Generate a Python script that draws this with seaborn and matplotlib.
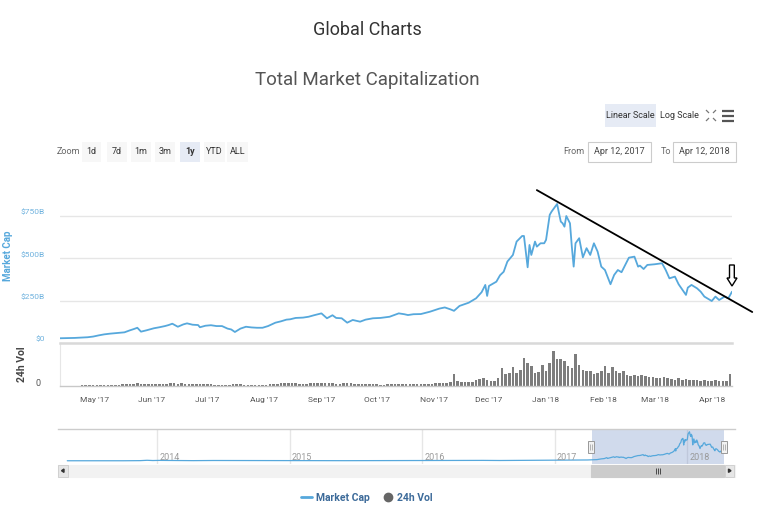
import numpy as np
import pandas as pd
import matplotlib
matplotlib.use("Agg")
import matplotlib.pyplot as plt
from matplotlib.patches import Rectangle, Polygon
from matplotlib.lines import Line2D
from matplotlib.transforms import ScaledTranslation
import seaborn as sns

# ---------------- data ----------------
cap_dates = [
    "2017-04-12", "2017-04-16", "2017-04-20", "2017-04-24", "2017-04-27", "2017-04-30",
    "2017-05-03", "2017-05-06", "2017-05-09", "2017-05-11", "2017-05-14", "2017-05-17",
    "2017-05-20", "2017-05-22", "2017-05-24", "2017-05-26", "2017-05-29", "2017-06-02",
    "2017-06-05", "2017-06-08", "2017-06-10", "2017-06-12", "2017-06-15", "2017-06-18",
    "2017-06-20", "2017-06-23", "2017-06-26", "2017-06-27", "2017-06-30", "2017-07-03",
    "2017-07-06", "2017-07-09", "2017-07-12", "2017-07-14", "2017-07-16", "2017-07-19",
    "2017-07-22", "2017-07-25", "2017-07-28", "2017-07-31", "2017-08-03", "2017-08-07",
    "2017-08-10", "2017-08-13", "2017-08-15", "2017-08-18", "2017-08-22", "2017-08-25",
    "2017-08-28", "2017-09-01", "2017-09-04", "2017-09-07", "2017-09-09", "2017-09-12",
    "2017-09-15", "2017-09-18", "2017-09-22", "2017-09-25", "2017-09-29", "2017-10-03",
    "2017-10-08", "2017-10-13", "2017-10-16", "2017-10-18", "2017-10-21", "2017-10-25",
    "2017-10-30", "2017-11-04", "2017-11-07", "2017-11-10", "2017-11-12", "2017-11-15",
    "2017-11-20", "2017-11-24", "2017-11-27", "2017-11-29", "2017-11-30", "2017-12-01",
    "2017-12-05", "2017-12-07", "2017-12-09", "2017-12-11", "2017-12-14", "2017-12-16",
    "2017-12-19", "2017-12-20", "2017-12-22", "2017-12-23", "2017-12-24", "2017-12-26",
    "2017-12-27", "2017-12-29", "2017-12-31", "2018-01-01", "2018-01-03", "2018-01-04",
    "2018-01-07", "2018-01-09", "2018-01-10", "2018-01-11", "2018-01-12", "2018-01-14",
    "2018-01-15", "2018-01-16", "2018-01-17", "2018-01-19", "2018-01-21", "2018-01-23",
    "2018-01-25", "2018-01-27", "2018-01-29", "2018-01-31", "2018-02-02", "2018-02-05",
    "2018-02-07", "2018-02-09", "2018-02-11", "2018-02-13", "2018-02-15", "2018-02-18",
    "2018-02-20", "2018-02-21", "2018-02-23", "2018-02-25", "2018-03-01", "2018-03-05",
    "2018-03-07", "2018-03-09", "2018-03-12", "2018-03-14", "2018-03-18", "2018-03-19",
    "2018-03-21", "2018-03-24", "2018-03-26", "2018-03-28", "2018-04-01", "2018-04-03",
    "2018-04-05", "2018-04-08", "2018-04-10", "2018-04-12",
]
cap_values = [
    28, 29, 30, 32, 34, 38,
    45, 51, 55, 57, 60, 63,
    75, 82, 90, 67, 75, 87,
    93, 100, 106, 114, 96, 110,
    116, 108, 106, 93, 102, 105,
    100, 100, 85, 80, 65, 85,
    96, 92, 90, 90, 100, 120,
    128, 138, 140, 148, 150, 155,
    164, 175, 146, 164, 148, 146,
    120, 136, 126, 138, 146, 148,
    155, 175, 170, 165, 170, 171,
    185, 203, 210, 199, 190, 219,
    238, 264, 300, 343, 278, 337,
    362, 400, 421, 481, 520, 599,
    632, 632, 447, 579, 520, 599,
    569, 589, 589, 609, 757, 776,
    821, 717, 707, 687, 750, 707,
    569, 451, 589, 619, 506, 560,
    520, 589, 540, 451, 431, 347,
    402, 431, 418, 461, 504, 510,
    451, 457, 437, 461, 465, 471,
    431, 382, 392, 347, 284, 327,
    343, 323, 303, 274, 248, 274,
    254, 274, 264, 303,
]

# 24h volume (billions), one bar every 2 days starting 2017-04-12
vol_start = "2017-04-12"
vol_values = [
    0.7, 0.7, 0.8, 0.8, 0.9, 0.9, 1.0, 1.0, 1.1, 1.2,
    1.3, 1.5, 1.6, 1.8, 2.0, 2.2, 2.5, 2.8, 3.2, 3.8, 4.5, 5.0, 4.2, 3.5, 3.2,
    3.2, 3.4, 3.8, 4.2, 4.6, 5.0, 5.2, 4.6, 4.8, 4.4, 4.0, 3.8, 3.5, 3.3, 3.2,
    3.0, 2.8, 2.6, 2.5, 2.4, 2.3, 2.6, 3.2, 4.0, 3.0, 2.6, 2.4, 2.3, 2.2, 2.1, 2.4,
    2.6, 3.0, 3.4, 4.0, 4.8, 5.5, 6.5, 5.5, 5.0, 4.6, 4.4, 4.2, 4.8, 5.5, 6.0,
    6.5, 6.0, 5.5, 5.0, 4.5, 4.0, 5.0, 5.5, 6.5, 4.5, 4.0, 3.5, 3.2, 3.0, 3.0,
    2.8, 2.6, 2.6, 2.8, 3.2, 3.6, 4.0, 3.8, 3.4, 3.0, 2.8, 2.8, 3.0, 3.2, 3.8, 4.5,
    5.0, 5.5, 6.0, 6.5, 8.0, 22, 9, 8, 7.5, 7.5, 8, 12, 13, 14, 11,
    9, 9, 14, 34, 22, 24, 35, 25, 30, 53, 42, 38, 25, 26, 40,
    28, 43, 66, 50, 50, 46, 37, 34, 59, 40, 30, 27, 28, 22, 25, 28,
    37, 25, 36, 28, 25, 27, 20, 19, 21, 19, 20, 18, 17, 16,
    15, 15, 16, 14, 13, 12, 14, 12, 13, 12, 12, 11, 10, 11, 10,
    9, 11, 10, 9, 10, 22,
]

# navigator (full history) values before the main window, billions
nav_dates = [
    "2013-04-28", "2013-07-01", "2013-10-01", "2013-11-15", "2013-12-04", "2013-12-20",
    "2014-01-05", "2014-02-25", "2014-04-10", "2014-06-05", "2014-08-01", "2014-10-05",
    "2015-01-14", "2015-06-01", "2015-11-04", "2015-12-31", "2016-03-01", "2016-06-17",
    "2016-08-02", "2016-12-31", "2017-01-04", "2017-02-28", "2017-03-10", "2017-04-01",
]
nav_values = [
    1.6, 1.1, 1.8, 5, 15, 8,
    12, 8, 5, 9, 8, 5,
    3, 4, 7, 7, 7, 12,
    9, 18, 18, 20, 23, 24,
]

trend_dates = ["2017-12-27", "2018-04-23"]
trend_values = [903, 183]

month_ticks = ["2017-05-01", "2017-06-01", "2017-07-01", "2017-08-01", "2017-09-01",
               "2017-10-01", "2017-11-01", "2017-12-01", "2018-01-01", "2018-02-01",
               "2018-03-01", "2018-04-01"]
month_labels = ["May '17", "Jun '17", "Jul '17", "Aug '17", "Sep '17", "Oct '17",
                "Nov '17", "Dec '17", "Jan '18", "Feb '18", "Mar '18", "Apr '18"]
year_ticks = ["2014-01-01", "2015-01-01", "2016-01-01", "2017-01-01", "2018-01-01"]
year_labels = ["2014", "2015", "2016", "2017", "2018"]
cap_ticks = [0, 250, 500, 750]
cap_tick_labels = ["$0", "$250B", "$500B", "$750B"]
zoom_buttons = ["1d", "7d", "1m", "3m", "1y", "YTD", "ALL"]

# ---------------- style ----------------
sns.set_style("white")
FONTS = ["Liberation Sans Narrow", "Roboto", "DejaVu Sans"]
plt.rcParams["font.family"] = FONTS

BLUE = "#56a8dc"
W, H = 768, 512


def box(x0, y0, x1, y1):
    return [x0 / W, 1 - y1 / H, (x1 - x0) / W, (y1 - y0) / H]


def fx(x):
    return x / W


def fy(y):
    return 1 - y / H


fig = plt.figure(figsize=(W / 100, H / 100), dpi=100)
fig.patch.set_facecolor("white")


def frect(x0, y0, x1, y1, fc, ec="none", lw=0.8, z=1):
    r = Rectangle((fx(x0), fy(y1)), (x1 - x0) / W, (y1 - y0) / H,
                  transform=fig.transFigure, facecolor=fc, edgecolor=ec,
                  linewidth=lw, zorder=z)
    fig.add_artist(r)


def fline(xs, ys, color, lw, z=5):
    fig.add_artist(Line2D([fx(v) for v in xs], [fy(v) for v in ys],
                          transform=fig.transFigure, color=color, lw=lw, zorder=z,
                          solid_capstyle="butt"))


# titles
fig.text(fx(367), fy(30), "Global Charts", ha="center", va="center",
         fontsize=13, color="#333333")
fig.text(fx(367), fy(80), "Total Market Capitalization", ha="center", va="center",
         fontsize=13.5, color="#555555")

# scale buttons
frect(605, 104, 656, 127, "#e6ebf5")
fig.text(fx(630.5), fy(115.5), "Linear Scale", ha="center", va="center", fontsize=6.5, color="#333333")
fig.text(fx(679.5), fy(115.5), "Log Scale", ha="center", va="center", fontsize=6.5, color="#333333")
# fullscreen icon
for (a, b, c, d) in [(706, 110, 709, 113), (716, 110, 713, 113), (706, 121, 709, 118), (716, 121, 713, 118)]:
    fline([a, c], [b, d], "#777777", 0.9)
# menu icon
for yy in (110.5, 115.5, 120.5):
    fline([722, 734], [yy, yy], "#555555", 1.6)

# zoom buttons
fig.text(fx(68.5), fy(152), "Zoom", ha="center", va="center", fontsize=6.5, color="#666666")
zb_pos = [(82, 101), (107, 127), (131, 151), (155, 175), (180, 200), (204, 225), (227, 248)]
for lab, (a, b) in zip(zoom_buttons, zb_pos):
    frect(a, 142, b, 162, "#e6ebf5" if lab == "1y" else "#f7f7f7")
    fig.text(fx((a + b) / 2), fy(152), lab, ha="center", va="center", fontsize=6.5,
             color="#333333", fontweight="bold" if lab == "1y" else "normal")

# date range inputs
fig.text(fx(574), fy(152), "From", ha="center", va="center", fontsize=6.5, color="#666666")
frect(588, 142, 651, 162, "white", "#cccccc")
fig.text(fx(619.5), fy(152), "Apr 12, 2017", ha="center", va="center", fontsize=6.5, color="#444444")
fig.text(fx(666), fy(152), "To", ha="center", va="center", fontsize=6.5, color="#666666")
frect(673, 142, 736, 162, "white", "#cccccc")
fig.text(fx(704.5), fy(152), "Apr 12, 2018", ha="center", va="center", fontsize=6.5, color="#444444")

# ---------------- main chart ----------------
x0, x1 = pd.Timestamp("2017-04-12"), pd.Timestamp("2018-04-12")
cap_df = pd.DataFrame({"date": pd.to_datetime(cap_dates), "cap": cap_values})

ax = fig.add_axes(box(60, 190, 732, 343))
sns.lineplot(data=cap_df, x="date", y="cap", ax=ax, color=BLUE, lw=1.3, zorder=3)
ax.set_xlim(x0, x1)
ax.set_ylim(0, 903.6)
ax.set_yticks(cap_ticks)
ax.set_yticklabels(cap_tick_labels)
ax.yaxis.grid(True, color="#e6e6e6", lw=1)
ax.set_xticks([])
ax.set_xlabel("")
ax.set_ylabel("")
ax.tick_params(axis="y", length=0, pad=11, labelsize=6, labelcolor="#6fb2de")
for lab in ax.get_yticklabels():
    lab.set_transform(lab.get_transform() + ScaledTranslation(0, 4 / 100, fig.dpi_scale_trans))
for s in ax.spines.values():
    s.set_visible(False)

# trend line annotation (drawn in data coordinates)
ax.plot(pd.to_datetime(trend_dates), trend_values, color="black", lw=1.3, clip_on=False, zorder=6)

# hollow down arrow annotation
arrow = Polygon([(fx(729.5), fy(265)), (fx(734.3), fy(265)), (fx(734.3), fy(278)),
                 (fx(737), fy(278)), (fx(732), fy(286)), (fx(727), fy(278)),
                 (fx(729.5), fy(278))], closed=True, transform=fig.transFigure,
                facecolor="white", edgecolor="black", lw=1.0, zorder=7)
fig.add_artist(arrow)

fig.text(fx(8), fy(256), "Market Cap", rotation=90, ha="center", va="center",
         fontsize=7, color=BLUE, fontweight="bold")

# ---------------- volume ----------------
vol_dates = pd.date_range(vol_start, periods=len(vol_values), freq="2D")
axv = fig.add_axes(box(60, 343, 732, 386))
axv.bar(vol_dates, vol_values, width=1.4, color="#7d7d7d", edgecolor="none", zorder=2)
axv.set_xlim(x0, x1)
axv.set_ylim(0, 80)
axv.set_yticks([0])
axv.set_yticklabels(["0"])
axv.tick_params(axis="y", length=0, pad=14, labelsize=6.5, labelcolor="#555555")
for lab in axv.get_yticklabels():
    lab.set_transform(lab.get_transform() + ScaledTranslation(0, 4 / 100, fig.dpi_scale_trans))
axv.set_xticks(pd.to_datetime(month_ticks))
axv.set_xticklabels(month_labels)
axv.tick_params(axis="x", length=5, width=0.8, color="#c8c8c8", pad=3,
                labelsize=6, labelcolor="#555555", direction="out")
for k, s in axv.spines.items():
    s.set_visible(k in ("top", "bottom", "left"))
axv.spines["top"].set_color("#d9d9d9")
axv.spines["top"].set_linewidth(1.8)
axv.spines["bottom"].set_color("#c8c8c8")
axv.spines["bottom"].set_linewidth(1.0)
axv.spines["left"].set_color("#e6e6e6")
axv.spines["left"].set_linewidth(0.8)
fig.text(fx(22), fy(364), "24h Vol", rotation=90, ha="center", va="center",
         fontsize=7.5, color="#444444", fontweight="bold")

# ---------------- navigator ----------------
px_per_day = 132.6 / 365.25
nav_left = pd.Timestamp("2014-01-01") - pd.Timedelta(days=(157.3 - 58) / px_per_day)
nav_right = pd.Timestamp("2018-01-01") + pd.Timedelta(days=(735 - 687.3) / px_per_day)
nav_df = pd.DataFrame({"date": pd.to_datetime(nav_dates + cap_dates),
                       "cap": nav_values + cap_values})
axn = fig.add_axes(box(58, 429, 735, 464))
for t in pd.to_datetime(year_ticks):
    axn.axvline(t, color="#e6e6e6", lw=1, zorder=0)
sns.lineplot(data=nav_df, x="date", y="cap", ax=axn, color=BLUE, lw=0.9, zorder=3)
axn.axvspan(x0, x1, color=(102 / 255, 133 / 255, 194 / 255), alpha=0.3, lw=0, zorder=1)
axn.set_xlim(nav_left, nav_right)
axn.set_ylim(-90, 900)
axn.set_xticks([])
axn.set_yticks([])
axn.set_xlabel("")
axn.set_ylabel("")
for t, lab in zip(pd.to_datetime(year_ticks), year_labels):
    axn.text(t + pd.Timedelta(days=5.5), 0.19, lab, transform=axn.get_xaxis_transform(),
             ha="left", va="center", fontsize=6.5, color="#999999", zorder=4)
for k, s in axn.spines.items():
    s.set_visible(k == "top")
axn.spines["top"].set_color("#cccccc")
axn.spines["top"].set_linewidth(1.0)

# navigator handles
for hx in (591, 724):
    frect(hx - 3, 441, hx + 3, 453, "#f2f2f2", "#999999", 0.7, z=6)
    fline([hx - 0.8, hx - 0.8], [444, 450], "#999999", 0.5, z=7)
    fline([hx + 0.8, hx + 0.8], [444, 450], "#999999", 0.5, z=7)

# scrollbar
frect(58, 464.5, 735, 477, "#f2f2f2", "#f2f2f2", z=2)
frect(58, 464.5, 68, 477, "#e6e6e6", "#cccccc", 0.6, z=3)
frect(591, 464.5, 724, 477, "#cccccc", "#cccccc", z=3)
frect(725, 464.5, 734, 477, "#e6e6e6", "#cccccc", 0.6, z=3)
fig.add_artist(Polygon([(fx(61.5), fy(470.7)), (fx(64), fy(469)), (fx(64), fy(472.4))],
                       transform=fig.transFigure, color="#333333", zorder=4))
fig.add_artist(Polygon([(fx(731), fy(470.7)), (fx(728.5), fy(469)), (fx(728.5), fy(472.4))],
                       transform=fig.transFigure, color="#333333", zorder=4))
for gx in (655.5, 657.5, 659.5):
    fline([gx, gx], [468, 473.5], "#333333", 0.6, z=4)

# ---------------- legend ----------------
handles = [Line2D([], [], color=BLUE, lw=2),
           Line2D([], [], marker="o", ls="", color="#666666", ms=6)]
fig.legend(handles, ["Market Cap", "24h Vol"], loc="center", ncol=2, frameon=False,
           bbox_to_anchor=(fx(367), fy(498)), handlelength=1.0, handletextpad=0.4,
           columnspacing=1.2, labelcolor="#3d6b9a",
           prop={"size": 7.5, "weight": "bold", "family": FONTS})

fig.savefig("out.png", dpi=100, facecolor="white")
